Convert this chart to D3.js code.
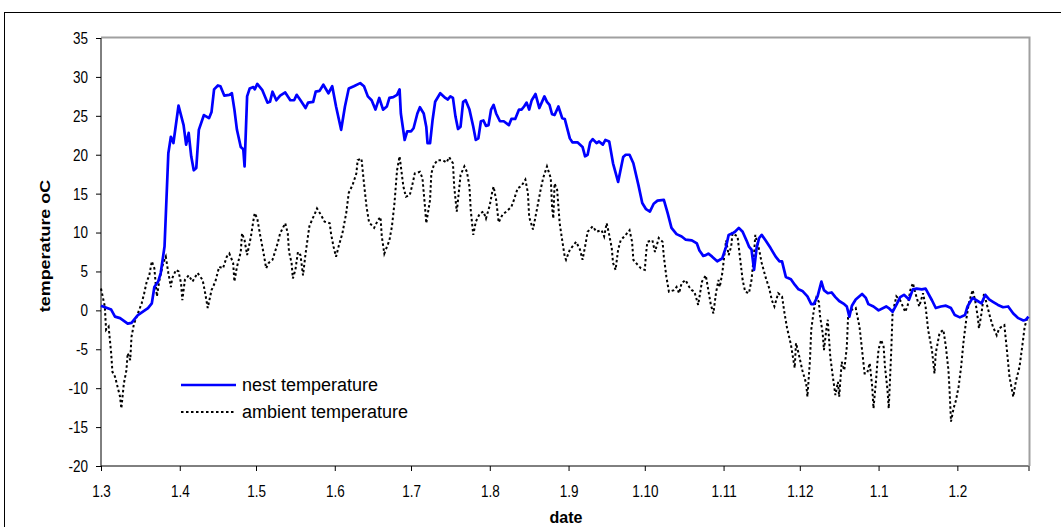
<!DOCTYPE html>
<html>
<head>
<meta charset="utf-8">
<script src="https://cdn.jsdelivr.net/npm/d3@7"></script>
<style>
  html, body { margin: 0; padding: 0; background: #fff; }
  svg { display: block; }
  text { font-family: Arial, "Liberation Sans", sans-serif; fill: #000; }
</style>
</head>
<body>
<svg id="chart" width="1061" height="527"></svg>
<script>
// Season start (1 March) and end (1 March next year); readings are offsets in days
const seasonStart = "2006-03-01";
const seasonEnd = "2007-03-01";

const tickLabels = ["1.3", "1.4", "1.5", "1.6", "1.7", "1.8", "1.9", "1.10", "1.11", "1.12", "1.1", "1.2"];
const yTicks = [-20, -15, -10, -5, 0, 5, 10, 15, 20, 25, 30, 35];

const nestDays = [
  0, 4, 5.5, 7.5, 10.5, 12, 14.5, 18.5, 20, 21,
  22.5, 23.5, 25, 26.5, 27.5, 28.5, 30.5, 32.5, 33.5, 34.5,
  35.5, 36.5, 37.5, 38.5, 40.5, 42.5, 43.5, 44.5, 46, 47,
  48.5, 50.5, 51.5, 52.5, 53.5, 55, 56, 56.5, 57.5, 58.5,
  60, 60.5, 61.5, 63.5, 65.5, 66.5, 67.5, 69, 70.5, 72.5,
  74.5, 76, 77, 78.5, 80.5, 81.5, 83.5, 84.5, 86, 87.5,
  89.5, 91, 92.5, 94.5, 96, 97.5, 99.5, 102, 103.5, 105,
  106.5, 108, 109.5, 111, 112.5, 113.5, 115, 116.5, 117.5, 118,
  119.5, 120.5, 122, 123, 124.5, 125.5, 127, 128, 128.5, 129.5,
  130.5, 131.5, 133.5, 135.5, 136.5, 137.5, 138.5, 139.5, 140.5, 141.5,
  142.5, 143.5, 145, 146.5, 147.5, 148.5, 149.5, 150.5, 151.5, 152.5,
  153.5, 154.5, 155.5, 157, 158.5, 160.5, 161.5, 163, 164.5, 165.5,
  166.5, 167.5, 168.5, 169.5, 171, 172.5, 174.5, 175.5, 176.5, 177.5,
  178.5, 180, 181.5, 182.5, 184.5, 185.5, 187.5, 189.5, 190.5, 191.5,
  192.5, 193.5, 195, 196, 197.5, 198.5, 200, 201.5, 203.5, 205.5,
  206.5, 208, 209.5, 211.5, 213, 214.5, 216, 217.5, 219, 221.5,
  223, 224.5, 226.5, 228.5, 230, 232.5, 234.5, 235.5, 237, 238,
  239, 240.5, 242.5, 244.5, 246, 247, 248.5, 249.5, 251, 252.5,
  254, 255, 256, 257, 258, 259, 260, 261.5, 263.5, 265.5,
  267, 268, 269.5, 271.5, 273, 274.5, 276, 278, 279.5, 280.5,
  282, 283.5, 284.5, 286, 287.5, 289, 290.5, 292.5, 293.5, 294.5,
  295.5, 297, 299.5, 301, 302, 304, 306, 309, 310, 311.5,
  313, 314.5, 316, 318, 319.5, 321, 323, 324.5, 327, 328.5,
  330.5, 332.5, 334.5, 336, 338, 340, 341, 343, 344.5, 346.5,
  348, 349.5, 351, 353, 355, 357, 359, 361, 363, 364, 365
];
const nestTemps = [
  0.6, 0.1, -0.8, -1.0, -1.7, -1.6, -0.6, 0.3, 0.9, 3.0,
  3.7, 4.8, 8.2, 20.2, 22.3, 21.5, 26.3, 23.8, 21.3, 22.8,
  19.8, 18.0, 18.3, 23.2, 25.1, 24.7, 25.5, 28.4, 28.9, 28.8,
  27.6, 27.7, 27.9, 25.8, 23.2, 21.0, 20.7, 18.5, 27.5, 28.5,
  28.7, 28.4, 29.1, 28.3, 26.7, 26.8, 28.1, 27.0, 27.6, 28.0,
  27.0, 27.0, 27.7, 27.0, 26.0, 26.7, 26.8, 28.1, 28.2, 29.0,
  27.9, 28.8, 26.2, 23.2, 26.2, 28.5, 28.8, 29.2, 28.8, 27.5,
  27.0, 25.8, 27.3, 25.8, 26.2, 27.3, 27.4, 27.7, 28.4, 25.3,
  21.9, 23.0, 23.0, 23.4, 25.3, 26.1, 25.3, 23.6, 21.5, 21.5,
  24.5, 26.8, 27.9, 27.3, 27.1, 27.5, 27.3, 24.9, 23.3, 23.6,
  26.8, 27.0, 25.8, 23.6, 21.9, 22.1, 24.3, 24.4, 23.7, 23.8,
  25.8, 26.4, 25.3, 24.3, 24.3, 23.8, 24.6, 24.6, 25.8, 25.8,
  26.2, 26.7, 25.8, 27.0, 27.8, 26.0, 27.5, 26.8, 26.4, 25.2,
  25.1, 26.2, 24.7, 24.6, 22.1, 21.6, 21.6, 21.0, 19.8, 20.0,
  21.6, 22.0, 21.5, 21.7, 21.3, 21.9, 21.7, 18.9, 16.5, 19.7,
  20.0, 20.0, 18.9, 16.1, 13.8, 13.0, 12.7, 13.7, 14.1, 14.2,
  12.5, 10.6, 9.8, 9.5, 9.1, 9.0, 8.6, 7.7, 7.0, 7.1,
  7.3, 6.9, 6.3, 6.7, 8.2, 9.7, 9.9, 10.1, 10.6, 10.1,
  9.0, 8.2, 7.8, 5.2, 8.0, 9.3, 9.7, 9.0, 8.0, 6.9,
  6.3, 6.3, 4.3, 4.0, 3.3, 2.7, 2.5, 1.8, 0.8, 0.8,
  1.8, 3.7, 2.6, 2.2, 2.3, 1.7, 1.2, 0.8, 0.5, -0.8,
  0.6, 1.4, 2.1, 1.6, 0.8, 0.5, 0.0, 0.5, 0.3, -0.2,
  0.7, 1.7, 2.0, 1.4, 2.7, 2.8, 2.7, 2.8, 1.3, 0.3,
  0.5, 0.6, 0.3, -0.6, -0.9, -0.6, 0.5, 1.6, 1.3, 0.9,
  2.0, 1.4, 1.1, 0.7, 0.4, 0.5, -0.4, -1.0, -1.3, -1.2, -0.8
];

const ambientDays = [
  0, 1.5, 2, 3, 4, 4.5, 5.5, 6.5, 7.5, 8,
  9, 10, 10.5, 11.5, 12, 13, 14.5, 16, 17, 18,
  19, 20, 21, 21.5, 22, 23, 24.5, 25.5, 26.5, 27.5,
  28, 29.5, 30.5, 31.5, 32, 33, 34.5, 36, 38, 40,
  41, 42, 43.5, 45, 46.5, 48, 49.5, 50.5, 52, 52.5,
  53.5, 55, 55.5, 56.5, 57.5, 59, 60, 60.5, 61.5, 62.5,
  64, 65, 66, 67.5, 69.5, 70.5, 72.5, 73.5, 74, 75,
  75.5, 76.5, 77.5, 78.5, 79.5, 80.5, 82, 83, 84, 85,
  86.5, 88, 90, 90.5, 91.5, 92.5, 93.5, 95, 96.5, 97.5,
  99, 100.5, 101, 102.5, 103.5, 104.5, 105.5, 107.5, 109, 110,
  110.5, 111.5, 113.5, 114.5, 115.5, 116.5, 117.5, 118, 119, 120,
  121.5, 122.5, 123.5, 125.5, 126.5, 127.5, 128, 129.5, 130, 131,
  132.5, 134.5, 136, 137, 138.5, 139, 140, 140.5, 141.5, 143,
  144, 145, 145.5, 146.5, 147.5, 149, 150.5, 151.5, 153, 154,
  154.5, 155.5, 156.5, 158, 159.5, 161.5, 162.5, 164, 165.5, 167,
  168, 168.5, 170, 171.5, 173, 174, 175.5, 177, 177.5, 178,
  178.5, 179.5, 180.5, 181.5, 182.5, 183, 184.5, 187, 188.5, 189.5,
  190.5, 191.5, 193.5, 195, 197, 198, 199, 200, 201, 201.5,
  202.5, 203.5, 204.5, 206.5, 208, 209, 209.5, 210.5, 212.5, 214,
  214.5, 215, 217, 218, 219.5, 221, 221.5, 222.5, 223.5, 225.5,
  226.5, 227.5, 228.5, 230, 231.5, 232.5, 233.5, 234.5, 235, 236.5,
  238, 239, 240, 241, 242, 243, 243.5, 244.5, 246, 247,
  248, 248.5, 250.5, 251.5, 252.5, 253.5, 255, 256, 257, 257.5,
  259, 260, 261.5, 263, 264, 265, 266.5, 268, 269, 270,
  271.5, 272.5, 273, 273.5, 274.5, 276, 277.5, 278, 279, 279.5,
  280.5, 281.5, 282.5, 283, 284, 284.5, 285.5, 286, 287, 288,
  289, 290, 290.5, 291.5, 292.5, 293.5, 294, 295, 297, 298.5,
  299.5, 300.5, 301.5, 302.5, 303.5, 304, 305, 305.5, 306, 307,
  308, 308.5, 309.5, 310, 311, 311.5, 313, 314.5, 316.5, 317.5,
  318.5, 319.5, 320.5, 322, 323.5, 324.5, 325.5, 327, 328, 328.5,
  330, 331.5, 332.5, 333.5, 334, 334.5, 335.5, 336.5, 337.5, 338.5,
  339.5, 340.5, 341.5, 343, 344, 345, 345.5, 346.5, 347.5, 348.5,
  350, 351, 352.5, 353.5, 355.5, 356.5, 357.5, 359, 360, 361.5, 362.5, 363.5, 364.5
];
const ambientTemps = [
  2.8, 0.5, -2.5, -2.1, -5.5, -7.9, -8.5, -9.8, -11.1, -12.6,
  -9.4, -7.7, -5.5, -6.4, -3.4, -1.7, -0.4, 0.9, 2.2, 3.7,
  4.5, 6.3, 5.4, 3.5, 1.8, 3.9, 6.1, 6.9, 4.8, 3.0,
  4.1, 5.2, 5.0, 3.5, 1.3, 3.9, 4.5, 3.7, 4.8, 3.9,
  2.2, 0.3, 2.6, 3.7, 5.6, 5.4, 6.9, 7.3, 6.1, 3.7,
  5.6, 7.5, 9.9, 9.0, 7.1, 9.5, 11.6, 12.5, 11.8, 9.9,
  7.3, 5.4, 6.1, 6.5, 8.6, 9.9, 11.2, 9.9, 7.5, 6.1,
  4.1, 5.2, 7.5, 7.1, 4.5, 7.3, 10.8, 11.6, 12.3, 13.1,
  12.3, 11.4, 11.2, 9.9, 8.2, 6.9, 8.2, 9.9, 12.5, 15.1,
  16.1, 17.6, 19.3, 19.5, 16.3, 13.3, 11.3, 10.6, 11.6, 12.0,
  9.5, 7.3, 9.0, 10.8, 13.8, 18.0, 19.8, 18.5, 15.9, 14.6,
  14.8, 16.1, 17.6, 17.8, 17.0, 13.3, 11.2, 14.2, 17.6, 18.7,
  19.3, 19.3, 19.0, 19.7, 18.9, 15.9, 12.7, 14.2, 17.4, 18.5,
  17.8, 15.9, 12.9, 9.7, 11.4, 12.4, 12.7, 11.8, 13.5, 15.3,
  15.9, 14.2, 11.3, 12.3, 12.7, 13.3, 14.2, 15.7, 16.0, 16.8,
  15.1, 12.0, 10.4, 12.9, 15.5, 17.0, 18.5, 17.0, 13.3, 11.8,
  16.3, 15.5, 11.2, 9.0, 6.9, 6.5, 7.8, 8.8, 7.8, 6.5,
  8.2, 10.1, 10.8, 10.1, 10.3, 9.5, 11.2, 9.7, 8.0, 6.1,
  5.2, 7.8, 9.0, 9.7, 10.3, 8.8, 6.5, 6.1, 5.4, 5.2,
  7.3, 8.8, 9.0, 7.5, 9.3, 8.8, 6.9, 4.3, 2.4, 2.6,
  3.0, 2.2, 3.5, 3.9, 3.0, 2.6, 2.4, 1.3, 0.7, 3.7,
  4.5, 2.6, 0.7, -0.4, 2.2, 3.9, 3.0, 4.8, 9.0, 7.1,
  8.2, 9.9, 9.5, 6.7, 3.9, 2.4, 2.2, 3.9, 7.3, 9.7,
  7.8, 6.1, 4.3, 2.8, 1.3, 0.5, 2.2, 1.8, -0.4, -2.3,
  -4.4, -6.4, -7.4, -4.2, -5.5, -7.7, -9.4, -11.1, -6.4, -2.5,
  0.0, 1.6, 1.1, -0.8, -2.9, -5.1, -2.3, -1.2, -6.0, -8.5,
  -10.9, -9.2, -11.1, -6.6, -7.7, -4.7, -0.8, 0.0, 0.3, -2.1,
  -5.1, -8.1, -8.1, -6.8, -9.8, -12.6, -9.0, -6.8, -5.0, -3.8,
  -4.7, -7.2, -10.2, -12.6, -5.1, -0.4, 1.8, 1.3, -0.2, 0.7,
  2.6, 3.5, 2.2, 0.5, 2.2, 0.5, -2.5, -5.1, -8.1, -5.5,
  -2.9, -2.5, -4.7, -7.7, -10.7, -14.3, -12.6, -11.5, -9.8, -7.2,
  -3.8, -1.2, 0.9, 2.6, 1.3, -0.8, -2.3, -0.4, 2.2, 0.9,
  -1.0, -2.1, -3.2, -2.3, -1.9, -5.1, -8.5, -11.1, -9.2, -7.2, -4.7, -2.1, -1.0
];

const seriesNames = ["nest temperature", "ambient temperature"];

// ---- layout ----
const plot = { left: 101, right: 1028.5, top: 38, bottom: 466 };
const textStretch = 1.25;   // glyphs are drawn taller than wide
const svg = d3.select("#chart");

const t0 = new Date(seasonStart + "T00:00:00Z");
const t1 = new Date(seasonEnd + "T00:00:00Z");
const toDate = d => d3.utcHour.offset(t0, Math.round(d * 24));

const x = d3.scaleUtc().domain([t0, t1]).range([plot.left, plot.right]);
const y = d3.scaleLinear().domain([-20, 35]).range([plot.bottom, plot.top]);

// outer chart frame
svg.append("rect")
  .attr("x", 4.5).attr("y", 12.5)
  .attr("width", 1080).attr("height", 540)
  .attr("fill", "none").attr("stroke", "#000").attr("stroke-width", 1);

// plot area frame (top and right edges in grey)
svg.append("path")
  .attr("d", `M${plot.left},${plot.top - 0.5}H${plot.right + 1}V${plot.bottom}`)
  .attr("fill", "none").attr("stroke", "#a0a0a0").attr("stroke-width", 2);

// y axis
const yAxis = d3.axisLeft(y).tickValues(yTicks).tickSize(5).tickPadding(8)
  .tickFormat(d => String(d));
const gy = svg.append("g").attr("transform", `translate(${plot.left},0)`).call(yAxis);
gy.select(".domain").attr("stroke", "#000").attr("d", `M0,${plot.top}V${plot.bottom}`);
gy.selectAll(".tick line").attr("stroke", "#000");
gy.selectAll(".tick text")
  .attr("font-size", 13.5).attr("font-family", "Arial, 'Liberation Sans', sans-serif")
  .attr("transform", `scale(1,${textStretch})`);

// x axis: month starts
const monthTicks = d3.utcMonth.range(t0, d3.utcDay.offset(t1, 1));
const xAxis = d3.axisBottom(x).tickValues(monthTicks).tickSize(5)
  .tickFormat((d, i) => tickLabels[i] !== undefined ? tickLabels[i] : "");
const gx = svg.append("g").attr("transform", `translate(0,${plot.bottom})`).call(xAxis);
gx.select(".domain").attr("stroke", "#000").attr("d", `M${plot.left},0H${plot.right}`);
gx.selectAll(".tick line").attr("stroke", "#000");
gx.selectAll(".tick text")
  .attr("font-size", 13.5).attr("font-family", "Arial, 'Liberation Sans', sans-serif")
  .attr("y", 19 / textStretch)
  .attr("transform", `scale(1,${textStretch})`);

// axis titles
svg.append("text")
  .attr("x", 566).attr("y", 523)
  .attr("text-anchor", "middle").attr("font-size", 16).attr("font-weight", "bold")
  .text("date");
svg.append("text")
  .attr("transform", `translate(50,246) rotate(-90) scale(1.28,1)`)
  .attr("text-anchor", "middle").attr("font-size", 14).attr("font-weight", "bold")
  .text("temperature oC");

// series
const nestData = nestDays.map((d, i) => ({ t: toDate(d), v: nestTemps[i] }));
const ambientData = ambientDays.map((d, i) => ({ t: toDate(d), v: ambientTemps[i] }));
const line = d3.line().x(d => x(d.t)).y(d => y(d.v));

svg.append("path").datum(ambientData)
  .attr("d", line).attr("fill", "none")
  .attr("stroke", "#000").attr("stroke-width", 2)
  .attr("stroke-dasharray", "2.5,2.5");

svg.append("path").datum(nestData)
  .attr("d", line).attr("fill", "none")
  .attr("stroke", "#0000ff").attr("stroke-width", 2.7)
  .attr("stroke-linejoin", "round");

// legend
const legend = svg.append("g").attr("transform", "translate(181,385)");
legend.append("line").attr("x1", 0).attr("x2", 55).attr("y1", 0).attr("y2", 0)
  .attr("stroke", "#0000ff").attr("stroke-width", 2.7);
legend.append("text").attr("x", 61).attr("y", 6).attr("font-size", 18).text(seriesNames[0]);
legend.append("line").attr("x1", 0).attr("x2", 55).attr("y1", 27).attr("y2", 27)
  .attr("stroke", "#000").attr("stroke-width", 2).attr("stroke-dasharray", "2.5,2.5");
legend.append("text").attr("x", 61).attr("y", 33).attr("font-size", 18).text(seriesNames[1]);
</script>
</body>
</html>
